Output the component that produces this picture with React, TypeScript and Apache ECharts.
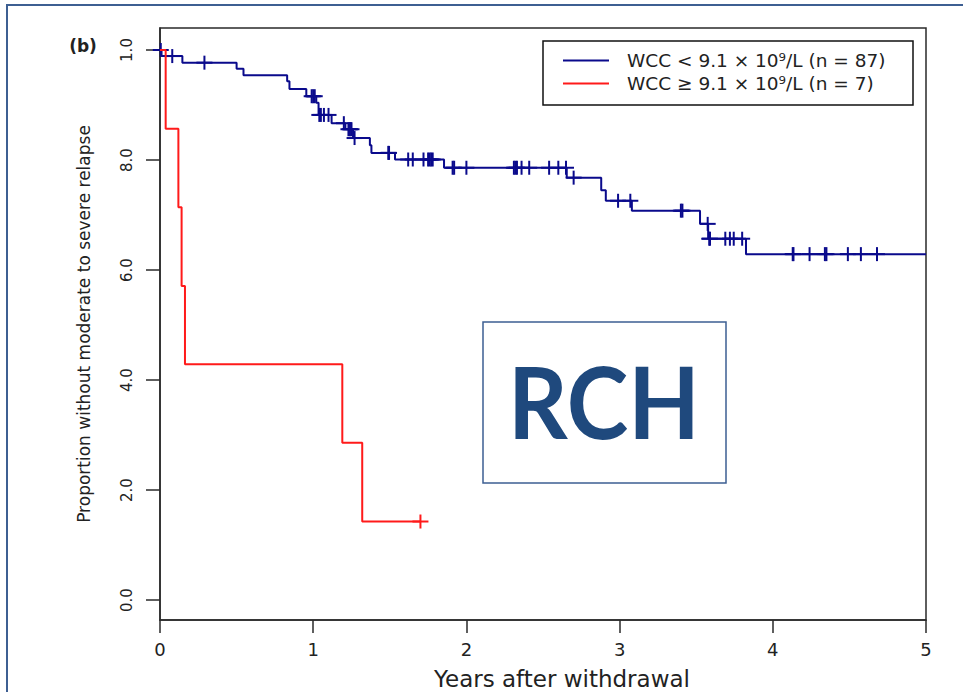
import React, { useEffect, useRef } from "react";
import * as echarts from "echarts";

// ---- data ----
const blueName = "WCC < 9.1 × 10⁹/L (n = 87)";
const redName = "WCC ≥ 9.1 × 10⁹/L (n = 7)";

// event times (years) and survival after each drop
const blueTimes = [0.01, 0.146, 0.5, 0.545, 0.83, 0.845, 0.955, 1.02, 1.035, 1.12, 1.21, 1.26, 1.37, 1.38, 1.534, 1.854, 2.655, 2.88, 2.91, 3.08, 3.525, 3.578, 3.825];
const blueSurv = [0.989, 0.977, 0.966, 0.954, 0.943, 0.929, 0.916, 0.904, 0.882, 0.867, 0.856, 0.84, 0.827, 0.813, 0.801, 0.786, 0.768, 0.745, 0.726, 0.708, 0.684, 0.657, 0.629];
const blueCensor = [0.005, 0.08, 0.29, 0.99, 1.0, 1.01, 1.04, 1.05, 1.07, 1.1, 1.2, 1.23, 1.24, 1.25, 1.27, 1.49, 1.495, 1.62, 1.65, 1.72, 1.75, 1.76, 1.77, 1.78, 1.91, 1.92, 2.0, 2.31, 2.32, 2.33, 2.36, 2.41, 2.54, 2.6, 2.65, 2.7, 2.99, 3.07, 3.4, 3.41, 3.575, 3.585, 3.59, 3.69, 3.72, 3.745, 3.8, 4.13, 4.135, 4.24, 4.34, 4.35, 4.49, 4.575, 4.68];
const blueEnd = 5;

const redTimes = [0.037, 0.12, 0.141, 0.163, 1.19, 1.32];
const redSurv = [0.857, 0.714, 0.571, 0.429, 0.286, 0.143];
const redCensor = [1.7];
const redEnd = 1.7;

const xTicks = [0, 1, 2, 3, 4, 5];
const yTickValues = [0, 0.2, 0.4, 0.6, 0.8, 1.0];
const yTickLabels = ["0.0", "2.0", "4.0", "6.0", "8.0", "1.0"];

const BLUE = "#0a0a8c";
const RED = "#ff1a1a";
const FONT = "DejaVu Sans";

function stepData(times: number[], surv: number[], end: number) {
  const d: number[][] = [[0, 1]];
  times.forEach((t, i) => d.push([t, surv[i]]));
  d.push([end, surv[surv.length - 1]]);
  return d;
}
function levelAt(times: number[], surv: number[], t: number) {
  let s = 1;
  times.forEach((tt, i) => {
    if (tt <= t) s = surv[i];
  });
  return s;
}
function censorData(times: number[], surv: number[], c: number[]) {
  return c.map((t) => [t, levelAt(times, surv, t)]);
}
function censorSeries(data: number[][], color: string, name: string) {
  return {
    type: "custom",
    name,
    coordinateSystem: "cartesian2d",
    data,
    z: 3,
    renderItem: (_p: any, api: any) => {
      const p = api.coord([api.value(0), api.value(1)]);
      return {
        type: "group",
        children: [
          { type: "line", shape: { x1: p[0] - 8, y1: p[1], x2: p[0] + 8, y2: p[1] }, style: { stroke: color, lineWidth: 2 } },
          { type: "line", shape: { x1: p[0], y1: p[1] - 7, x2: p[0], y2: p[1] + 7 }, style: { stroke: color, lineWidth: 2 } },
        ],
      };
    },
  };
}

export default function App() {
  const ref = useRef<HTMLDivElement>(null);
  useEffect(() => {
    if (!ref.current) return;
    const chart = echarts.init(ref.current, null, { renderer: "svg" });
    const option: any = {
      animation: false,
      backgroundColor: "#ffffff",
      grid: {
        left: 160, right: 37, top: 28, bottom: 72,
        outerBoundsMode: "none",
        containLabel: false,
        show: true, borderColor: "#2a2a2a", borderWidth: 1.5, backgroundColor: "transparent",
      },
      legend: {
        data: [blueName, redName],
        orient: "vertical",
        left: 543,
        top: 41,
        padding: [9, 16, 11, 20],
        borderColor: "#111",
        borderWidth: 1.5,
        backgroundColor: "#fff",
        itemWidth: 46,
        itemHeight: 2,
        itemGap: 2,
        icon: "rect",
        selectedMode: false,
        textStyle: { fontFamily: FONT, fontSize: 18.5, color: "#222", lineHeight: 21, padding: [0, 0, 0, 13], width: 270 },
      },
      xAxis: {
        type: "value",
        min: 0,
        max: 5,
        interval: 1,
        name: "Years after withdrawal",
        nameLocation: "middle",
        nameGap: 47,
        nameTextStyle: { fontFamily: FONT, fontSize: 23, lineHeight: 23, color: "#222", padding: [0, 0, 0, 38] },
        axisLine: { show: true, onZero: false, lineStyle: { color: "#2a2a2a", width: 1.5 } },
        axisTick: { show: true, length: 13, lineStyle: { color: "#2a2a2a", width: 1.5 } },
        axisLabel: { fontFamily: FONT, fontSize: 18, color: "#222", margin: 20, formatter: (v: number) => String(xTicks[Math.round(v)] ?? v) },
        splitLine: { show: false },
      },
      yAxis: {
        type: "value",
        min: -0.036,
        max: 1.04,
        name: "Proportion without moderate to severe relapse",
        nameLocation: "middle",
        nameRotate: 90,
        nameGap: 68,
        nameTextStyle: { fontFamily: FONT, fontSize: 17, color: "#222" },
        axisLine: { show: true, onZero: false, lineStyle: { color: "#2a2a2a", width: 1.5 } },
        axisTick: { show: true, length: 14, customValues: yTickValues, lineStyle: { color: "#2a2a2a", width: 1.5 } },
        axisLabel: {
          customValues: yTickValues,
          rotate: 90,
          margin: 26,
          fontFamily: FONT,
          fontSize: 15,
          color: "#222",
          formatter: (v: number) => {
            const i = yTickValues.findIndex((x) => Math.abs(x - v) < 1e-6);
            return i >= 0 ? yTickLabels[i] : "";
          },
        },
        splitLine: { show: false },
      },
      series: [
        {
          type: "line",
          name: blueName,
          step: "end",
          data: stepData(blueTimes, blueSurv, blueEnd),
          showSymbol: false,
          symbol: "none",
          lineStyle: { color: BLUE, width: 2 },
          itemStyle: { color: BLUE },
          z: 2,
        },
        censorSeries(censorData(blueTimes, blueSurv, blueCensor), BLUE, "blue-censor"),
        {
          type: "line",
          name: redName,
          step: "end",
          data: stepData(redTimes, redSurv, redEnd),
          showSymbol: false,
          symbol: "none",
          lineStyle: { color: RED, width: 2 },
          itemStyle: { color: RED },
          z: 4,
        },
        censorSeries(censorData(redTimes, redSurv, redCensor), RED, "red-censor"),
      ],
      graphic: [
        { type: "rect", shape: { x: 7, y: 5, width: 1000, height: 1000 }, style: { fill: "none", stroke: "#3d5f92", lineWidth: 2 }, silent: true, z: 10 },
        { type: "text", x: 83, y: 46, style: { text: "(b)", font: `bold 17px '${FONT}'`, fill: "#222", align: "center", verticalAlign: "middle" }, z: 10 },
        { type: "rect", shape: { x: 483, y: 322, width: 243, height: 161 }, style: { fill: "#fff", stroke: "#3d5f92", lineWidth: 1.5 }, z: 10 },
        { type: "text", x: 604, y: 401, scaleX: 0.93, style: { text: "RCH", font: "bold 100px Lato", fill: "#1f497d", align: "center", verticalAlign: "middle" }, z: 11 },
      ],
    };
    chart.setOption(option);
    return () => chart.dispose();
  }, []);
  return <div ref={ref} style={{ position: "absolute", left: 0, top: 0, width: 963, height: 692, background: "#fff" }} />;
}
